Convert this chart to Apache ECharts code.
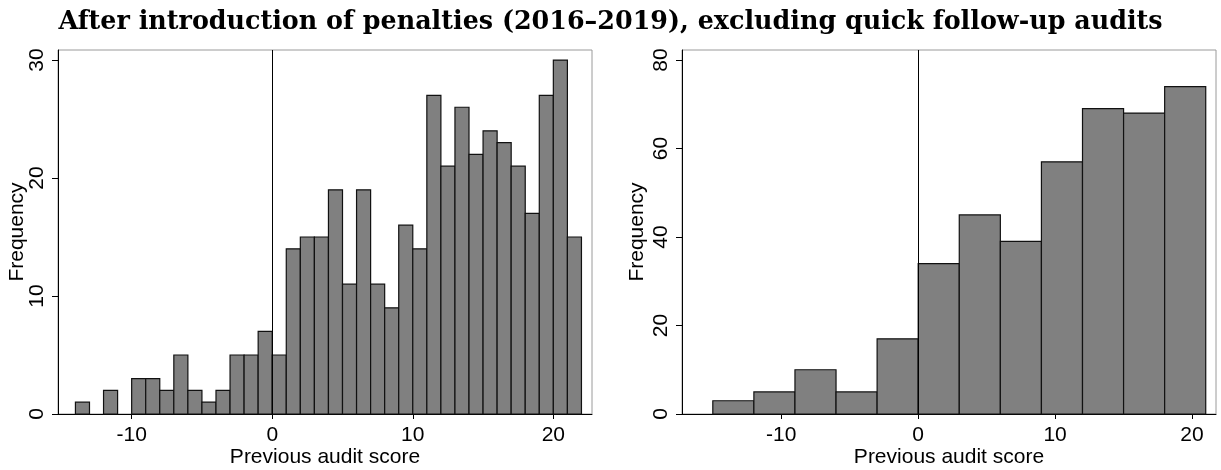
<!DOCTYPE html>
<html>
<head>
<meta charset="utf-8">
<script src="https://cdn.jsdelivr.net/npm/echarts@6/dist/echarts.min.js"></script>
<style>
  html, body { margin: 0; padding: 0; background: #ffffff; }
  #chart { width: 1221px; height: 470px; }
</style>
</head>
<body>
<div id="chart"></div>
<script>
// Title and axis names
const titleText = 'After introduction of penalties (2016–2019), excluding quick follow-up audits';
const xAxisName = 'Previous audit score';
const yAxisName = 'Frequency';

// Left panel: bins one point wide (lower edges and counts)
const leftBinWidth = 1;
const leftBinLower = [-14, -13, -12, -11, -10, -9, -8, -7, -6, -5, -4, -3, -2, -1,
  0, 1, 2, 3, 4, 5, 6, 7, 8, 9, 10, 11, 12, 13, 14, 15, 16, 17, 18, 19, 20, 21];
const leftCounts = [1, 0, 2, 0, 3, 3, 2, 5, 2, 1, 2, 5, 5, 7,
  5, 14, 15, 15, 19, 11, 19, 11, 9, 16, 14, 27, 21, 26, 22, 24, 23, 21, 17, 27, 30, 15];
const leftXTicks = [-10, 0, 10, 20];
const leftYTicks = [0, 10, 20, 30];

// Right panel: bins three points wide
const rightBinWidth = 3;
const rightBinLower = [-15, -12, -9, -6, -3, 0, 3, 6, 9, 12, 15, 18];
const rightCounts = [3, 5, 10, 5, 17, 34, 45, 39, 57, 69, 68, 74];
const rightXTicks = [-10, 0, 10, 20];
const rightYTicks = [0, 20, 40, 60, 80];

const SANS = '"Liberation Sans", Arial, Helvetica, sans-serif';
const SERIF = '"DejaVu Serif", "Liberation Serif", serif';

function histRenderer(binWidth) {
  return function (params, api) {
    const x0 = api.value(0);
    const count = api.value(1);
    if (!count) return null;
    const topLeft = api.coord([x0, count]);
    const bottomRight = api.coord([x0 + binWidth, 0]);
    return {
      type: 'rect',
      shape: {
        x: topLeft[0],
        y: topLeft[1],
        width: bottomRight[0] - topLeft[0],
        height: bottomRight[1] - topLeft[1]
      },
      style: { fill: '#808080', stroke: '#111111', lineWidth: 1.2 }
    };
  };
}

function xAxisCfg(gridIndex, min, max, ticks) {
  return {
    type: 'value', gridIndex, min, max,
    name: xAxisName, nameLocation: 'middle', nameGap: 33, nameMoveOverlap: false,
    nameTextStyle: { fontSize: 21, color: '#000', fontFamily: SANS },
    axisLine: { show: true, onZero: false, lineStyle: { color: '#000', width: 1 } },
    axisTick: { show: true, customValues: ticks, length: 5, lineStyle: { color: '#000', width: 1 } },
    axisLabel: { show: true, customValues: ticks, fontSize: 21, color: '#000', fontFamily: SANS, margin: 11 },
    splitLine: { show: false }
  };
}

function yAxisCfg(gridIndex, min, max, ticks, nameGap) {
  return {
    type: 'value', gridIndex, min, max,
    name: yAxisName, nameLocation: 'middle', nameGap, nameRotate: 90, nameMoveOverlap: false,
    nameTextStyle: { fontSize: 21, color: '#000', fontFamily: SANS },
    axisLine: { show: true, onZero: false, lineStyle: { color: '#000', width: 1 } },
    axisTick: { show: true, customValues: ticks, length: 6, lineStyle: { color: '#000', width: 1 } },
    axisLabel: { show: true, customValues: ticks, rotate: 90, fontSize: 21, color: '#000', fontFamily: SANS, margin: 10 },
    splitLine: { show: false }
  };
}

function zeroLine() {
  return {
    silent: true,
    symbol: ['none', 'none'],
    label: { show: false },
    lineStyle: { color: '#000', width: 1, type: 'solid' },
    data: [{ xAxis: 0 }]
  };
}

const chart = echarts.init(document.getElementById('chart'), null, { renderer: 'canvas' });

chart.setOption({
  backgroundColor: '#ffffff',
  animation: false,
  title: {
    text: titleText,
    left: 'center',
    top: 5,
    textStyle: { fontFamily: SERIF, fontWeight: 'bold', fontSize: 25.4, color: '#000' }
  },
  grid: [
    { left: 58, right: 629, top: 50, bottom: 56, outerBoundsMode: 'none', containLabel: false, show: true, borderColor: '#9a9a9a', borderWidth: 1, backgroundColor: 'transparent' },
    { left: 682, right: 5, top: 50, bottom: 56, outerBoundsMode: 'none', containLabel: false, show: true, borderColor: '#9a9a9a', borderWidth: 1, backgroundColor: 'transparent' }
  ],
  xAxis: [
    xAxisCfg(0, -15.24, 22.75, leftXTicks),
    xAxisCfg(1, -17.25, 21.75, rightXTicks)
  ],
  yAxis: [
    yAxisCfg(0, 0, 30.85, leftYTicks, 30),
    yAxisCfg(1, 0, 82.26, rightYTicks, 34)
  ],
  series: [
    {
      type: 'custom', xAxisIndex: 0, yAxisIndex: 0,
      renderItem: histRenderer(leftBinWidth),
      data: leftBinLower.map((x, i) => [x, leftCounts[i]]),
      markLine: zeroLine()
    },
    {
      type: 'custom', xAxisIndex: 1, yAxisIndex: 1,
      renderItem: histRenderer(rightBinWidth),
      data: rightBinLower.map((x, i) => [x, rightCounts[i]]),
      markLine: zeroLine()
    }
  ]
});
</script>
</body>
</html>
